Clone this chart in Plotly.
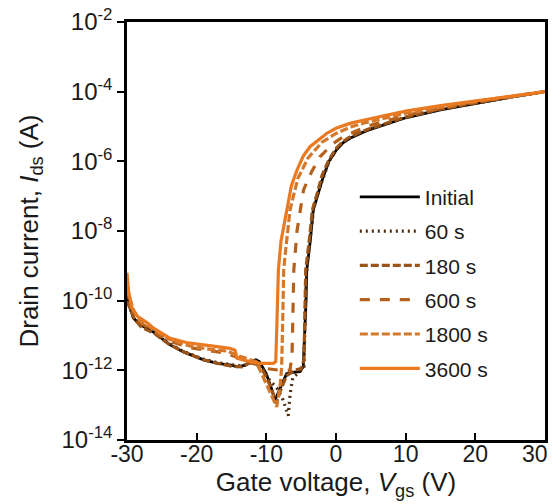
import numpy as np
import plotly.graph_objects as go

# Gate voltage (V) and log10 drain current (A) for each series
v_initial = [-30, -29.8, -29.1, -28, -26.2, -23.8, -21.9, -19, -17, -15, -14.2, -13, -12.3, -11.5, -11, -10, -9.3, -8.75, -8.2, -7.1, -6, -5.2, -4.7, -4.5, -4.3, -4.2, -3.7, -3.27, -2.5, -1.83, -1, 0.07, 1, 2, 4.4, 7, 10, 15, 20, 25, 30]
l_initial = [-9.6, -10.0, -10.5, -10.7, -10.9, -11.27, -11.47, -11.7, -11.8, -11.85, -11.9, -11.85, -11.75, -11.7, -11.75, -12.1, -12.5, -12.85, -12.6, -12.1, -12.05, -12.04, -11.9, -11.0, -10.0, -9.12, -8.3, -7.4, -6.9, -6.44, -6.0, -5.67, -5.47, -5.34, -5.12, -4.95, -4.75, -4.52, -4.33, -4.16, -4.0]

v_60 = [-30, -29.8, -29, -28, -26, -24, -22, -19, -17, -15, -13.5, -12.3, -11.3, -10.5, -9.5, -8.5, -7.6, -6.85, -6.6, -6.2, -5.2, -4.6, -4.45, -4.3, -4.1, -3.6, -3.2, -2.5, -1.8, -1, 0.1, 1, 2, 4.4, 7, 10, 15, 20, 25, 30]
l_60 = [-9.75, -10.1, -10.5, -10.72, -10.92, -11.22, -11.45, -11.68, -11.78, -11.85, -11.88, -11.78, -11.72, -11.95, -12.3, -12.5, -12.85, -13.3, -12.7, -12.2, -12.05, -11.9, -10.8, -9.5, -8.9, -8.1, -7.35, -6.85, -6.42, -6.0, -5.66, -5.46, -5.33, -5.11, -4.94, -4.74, -4.51, -4.33, -4.16, -4.0]

v_180 = [-30, -29.8, -29, -28, -26, -24, -21.5, -19, -17, -15, -13.5, -12.5, -11.5, -10.5, -9.3, -8.6, -8.0, -7.1, -6, -5, -4.6, -4.45, -4.35, -3.8, -3.4, -2.6, -2, -1, 0, 1, 2, 4.4, 7, 10, 15, 20, 25, 30]
l_180 = [-9.7, -10.1, -10.5, -10.75, -10.95, -11.25, -11.5, -11.7, -11.8, -11.88, -11.9, -11.8, -11.75, -12.0, -12.5, -12.95, -12.6, -12.15, -12.0, -11.95, -11.7, -10.5, -9.12, -8.2, -7.4, -6.85, -6.4, -5.95, -5.63, -5.43, -5.3, -5.09, -4.93, -4.73, -4.5, -4.32, -4.15, -4.0]

v_600 = [-30, -29.8, -29, -28, -26, -24, -21, -18, -16, -14.5, -13, -11, -10, -8, -6.6, -6.3, -6.15, -6.05, -5.6, -4.66, -3.5, -2.3, -0.5, 1.05, 4.4, 10, 20, 30]
l_600 = [-9.5, -9.95, -10.4, -10.65, -10.9, -11.15, -11.35, -11.45, -11.5, -11.6, -11.75, -11.85, -11.95, -12.0, -12.0, -11.5, -10.3, -9.1, -8.0, -6.82, -6.3, -5.87, -5.5, -5.29, -5.0, -4.68, -4.3, -4.0]

v_1800 = [-30, -29.8, -29, -28, -26, -24, -21, -18, -15.5, -14.5, -13, -11.5, -10.9, -9.5, -8.5, -8.0, -7.8, -7.65, -7.5, -7.2, -6.6, -5.5, -4, -2, 0, 2, 4.4, 10, 20, 30]
l_1800 = [-9.3, -9.8, -10.3, -10.6, -10.85, -11.1, -11.3, -11.4, -11.45, -11.55, -11.65, -11.75, -12.0, -12.6, -13.05, -12.4, -11.9, -10.6, -9.1, -8.5, -7.4, -6.5, -5.9, -5.45, -5.2, -5.02, -4.88, -4.62, -4.28, -4.0]

v_3600 = [-30, -29.8, -29.3, -28.5, -27, -26.2, -23.8, -21.5, -19, -17, -15.2, -14.5, -14.2, -13, -11.5, -10.9, -9, -8.65, -8.5, -8.35, -8.27, -7.9, -7.1, -6.4, -5.6, -4.7, -3.73, -2.5, -1.35, 0, 2, 4.4, 7, 10, 15, 20, 25, 30]
l_3600 = [-9.2, -9.7, -10.2, -10.45, -10.65, -10.79, -11.08, -11.2, -11.27, -11.32, -11.37, -11.42, -11.65, -11.72, -11.78, -11.8, -11.8, -11.75, -10.8, -9.8, -9.12, -8.3, -7.4, -6.7, -6.25, -5.85, -5.58, -5.37, -5.2, -5.05, -4.91, -4.8, -4.68, -4.56, -4.4, -4.26, -4.13, -4.0]

names = ["Initial", "60 s", "180 s", "600 s", "1800 s", "3600 s"]
colors = ["#000000", "#4d2e12", "#9a5419", "#b5611c", "#d4792c", "#ea7a22"]
dashes = ["solid", "2px,4px", "8px,3px", "10px,10px", "8px,3px", "solid"]
widths = [2.8, 3.2, 3.2, 3.2, 3.2, 3.2]

x_ticks = [-30, -20, -10, 0, 10, 20, 30]
x_ticktext = ["-30", "-20", "-10", "0", "10", "20", ""]
x_last_label = "30"
y_exps = [-14, -12, -10, -8, -6, -4, -2]

series = [(v_initial, l_initial), (v_60, l_60), (v_180, l_180),
          (v_600, l_600), (v_1800, l_1800), (v_3600, l_3600)]

fig = go.Figure()
for i, (v, l) in enumerate(series):
    fig.add_trace(go.Scatter(
        x=v, y=10 ** np.array(l, dtype=float), mode="lines", name=names[i],
        legendgroup=names[i],
        line=dict(color=colors[i], width=widths[i], dash=dashes[i]),
    ))

font = "Liberation Sans, Arial, sans-serif"
fig.update_layout(
    width=554, height=504,
    margin=dict(l=127, r=9, t=22, b=64),
    paper_bgcolor="white", plot_bgcolor="white",
    font=dict(family=font, size=21, color="#1a1a1a"),
    showlegend=True,
    legend=dict(x=0.545, y=0.63, xanchor="left", yanchor="top",
                bgcolor="rgba(0,0,0,0)", font=dict(size=21, color="#1a1a1a"),
                tracegroupgap=4, itemwidth=60),
)
# last x tick label pulled inside the picture, as in the reference
fig.add_annotation(x=x_ticks[-1], xref="x", y=0, yref="paper",
                   text=x_last_label, showarrow=False,
                   xanchor="right", yanchor="middle", xshift=5, yshift=-14,
                   font=dict(size=23, color="#1a1a1a"))
fig.update_xaxes(
    automargin=False,
    range=[-30, 30], tickvals=x_ticks, ticktext=x_ticktext,
    ticks="inside", ticklen=7, tickwidth=2, tickcolor="black",
    showline=True, linewidth=2.5, linecolor="black", mirror=True,
    showgrid=False, zeroline=False,
    tickfont=dict(size=23), ticklabelstandoff=-8,
    title=dict(text="Gate voltage, <i>V</i><sub>gs</sub> (V)", font=dict(size=26), standoff=4),
)
fig.update_yaxes(
    automargin=False,
    type="log", range=[-14, -2],
    tickvals=[10.0 ** e for e in y_exps],
    ticktext=["10<sup>%d</sup>" % e for e in y_exps],
    ticks="outside", ticklen=7, tickwidth=2, tickcolor="black",
    showline=True, linewidth=2.5, linecolor="black", mirror=True,
    showgrid=False, zeroline=False,
    tickfont=dict(size=24),
    title=dict(text="Drain current, <i>I</i><sub>ds</sub> (A)", font=dict(size=26), standoff=16),
)

fig.write_html("out.html")
